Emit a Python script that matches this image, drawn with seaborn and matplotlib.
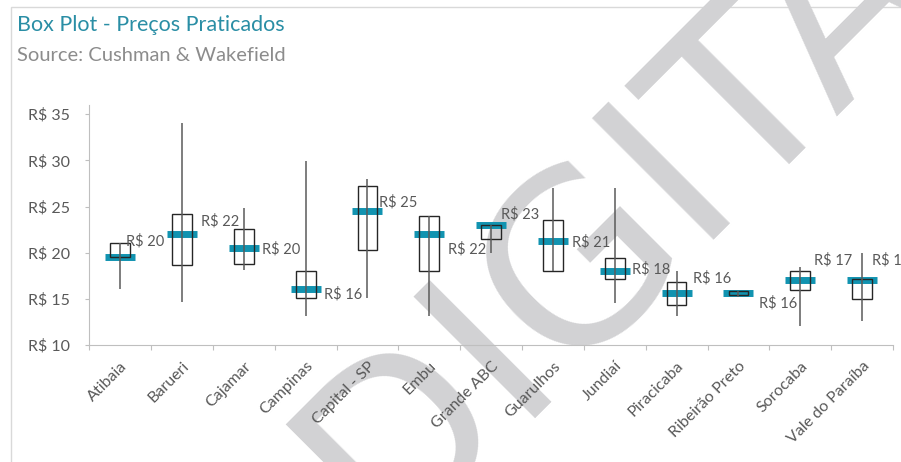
import numpy as np
import pandas as pd
import matplotlib.pyplot as plt
import seaborn as sns
from matplotlib.patches import Rectangle

# Regions and price ranges (R$/m2)
categories = ["Atibaia", "Barueri", "Cajamar", "Campinas", "Capital - SP", "Embu",
              "Grande ABC", "Guarulhos", "Jundiaí", "Piracicaba", "Ribeirão Preto",
              "Sorocaba", "Vale do Paraíba"]
price_min = [16.1, 14.7, 18.1, 13.1, 15.1, 13.1, 20.0, 18.0, 14.6, 13.1, 15.2, 12.1, 12.6]
price_max = [21.1, 34.1, 24.8, 29.9, 28.0, 24.0, 23.0, 27.0, 27.0, 18.0, 15.9, 18.5, 20.0]
box_low = [19.5, 18.7, 18.8, 15.1, 20.3, 18.0, 21.5, 18.0, 17.1, 14.3, 15.4, 16.0, 15.0]
box_high = [21.1, 24.2, 22.6, 18.0, 27.2, 24.0, 23.0, 23.5, 19.4, 16.8, 15.8, 18.0, 17.1]
avg_price = [19.55, 22.0, 20.5, 16.1, 24.5, 22.0, 23.0, 21.25, 18.0, 15.6, 15.65, 17.05, 17.05]
avg_labels = [20, 22, 20, 16, 25, 22, 23, 21, 18, 16, 16, 17, 17]
y_ticks = [10, 15, 20, 25, 30, 35]

# data label placement, pixels right of the category / above the marker
label_dx = [6, 19, 18, 18, 12, 19, 10, 19, 17, 16, 21, 14, 10]
label_dy = [16, 13, -1, -6, 9, -15, 11, -1, 2, 15, -10, 20, 20]

TEAL = "#1193b0"
GREY_TXT = "#595959"
AXIS_GREY = "#bfbfbf"

df = pd.DataFrame({
    "Region": categories,
    "Low": price_min,
    "High": price_max,
    "BoxLow": box_low,
    "BoxHigh": box_high,
    "Avg": avg_price,
})
df["BoxSize"] = df["BoxHigh"] - df["BoxLow"]

sns.set_style("white")
plt.rcParams["font.family"] = ["Lato", "DejaVu Sans"]

fig = plt.figure(figsize=(9.01, 4.62), dpi=100)
fig.patch.set_facecolor("white")

# watermark behind the chart
fig.text(385 / 901, (462 - 546) / 462, "DIGITAL", rotation=45, rotation_mode="anchor",
         ha="left", va="baseline", fontsize=170, family="DejaVu Sans",
         color="#d2d2d4", zorder=-1)

# chart frame (cropped at right / bottom)
fig.add_artist(Rectangle((11 / 901, -0.1), 1.2, 1.1 - 7 / 462, fill=False,
                         edgecolor="#d9d9d9", linewidth=1, transform=fig.transFigure, zorder=-2))

ax = fig.add_axes([0.0991, 0.2532, 0.892, 0.5195])
ax.patch.set_alpha(0)

# average markers
sns.pointplot(data=df, x="Region", y="Avg", order=categories, linestyle="none",
              marker="_", markersize=22, markeredgewidth=5, color=TEAL,
              errorbar=None, ax=ax, zorder=2)

# open-close boxes
sns.barplot(data=df, x="Region", y="BoxSize", order=categories, bottom=df["BoxLow"],
            fill=False, width=0.32, color="#262626", linewidth=1.0,
            errorbar=None, ax=ax, zorder=3)

# high-low lines
pos = np.arange(len(categories))
ax.vlines(pos, df["Low"], df["High"], color="#5a5a5a", linewidth=1.1, zorder=3)

for i, (v, lab) in enumerate(zip(avg_price, avg_labels)):
    ax.annotate(f"R$ {lab}", xy=(i, v), xytext=(label_dx[i] * 0.72, label_dy[i] * 0.72),
                textcoords="offset points", ha="left", va="center",
                fontsize=10.5, color=GREY_TXT, annotation_clip=False)

ax.set_xlim(-0.5, len(categories) - 0.5)
ax.set_ylim(10, 36)
ax.set_xlabel("")
ax.set_ylabel("")

ax.set_yticks(y_ticks)
ax.set_yticklabels([f"R$ {t}" for t in y_ticks])
ax.set_xticks(pos)
ax.set_xticklabels(categories, rotation=45, ha="right", rotation_mode="anchor")
ax.set_xticks(np.arange(-0.5, len(categories), 1), minor=True)

ax.tick_params(axis="x", which="major", length=0, pad=10, labelsize=11.5, labelcolor=GREY_TXT)
ax.tick_params(axis="x", which="minor", bottom=True, length=3.6, width=0.8,
               color=AXIS_GREY, direction="out")
ax.tick_params(axis="y", left=True, length=3, width=0.8, color=AXIS_GREY, pad=11,
               labelsize=11.5, labelcolor=GREY_TXT, direction="out")

for side in ["top", "right"]:
    ax.spines[side].set_visible(False)
for side in ["left", "bottom"]:
    ax.spines[side].set_color(AXIS_GREY)
    ax.spines[side].set_linewidth(0.8)

fig.text(17 / 901, (462 - 31) / 462, "Box Plot - Preços Praticados", fontsize=15.5,
         color="#2a8ea5", ha="left", va="baseline")
fig.text(17 / 901, (462 - 61) / 462, "Source: Cushman & Wakefield", fontsize=14.5,
         color="#8c8c8c", ha="left", va="baseline")

fig.savefig("out.png", dpi=100, facecolor="white")
